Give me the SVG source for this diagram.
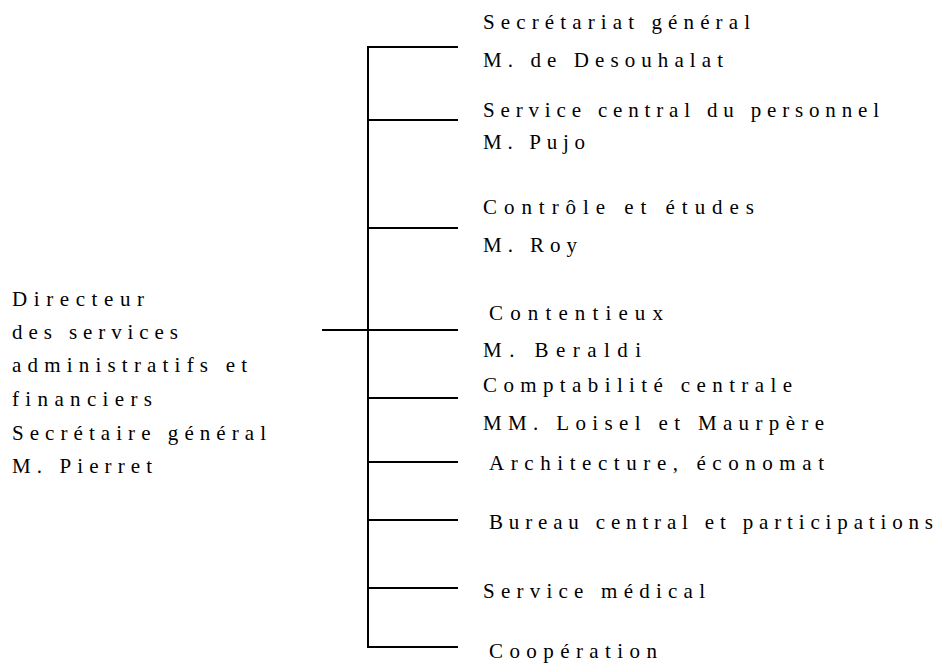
<svg xmlns="http://www.w3.org/2000/svg" width="935" height="666" viewBox="0 0 935 666">
<style>
text{font-family:"Liberation Serif","Times New Roman",serif;font-size:21px;fill:#000}
.ln{stroke:#000;stroke-width:2;fill:none}
</style>
<rect width="935" height="666" fill="#fff"/>
<g id="connectors">
<line class="ln" x1="368" y1="47" x2="368" y2="647"/>
<line class="ln" x1="322" y1="330" x2="458" y2="330"/>
<line class="ln" x1="367" y1="47" x2="458" y2="47"/>
<line class="ln" x1="368" y1="120" x2="458" y2="120"/>
<line class="ln" x1="368" y1="228" x2="458" y2="228"/>
<line class="ln" x1="368" y1="398" x2="458" y2="398"/>
<line class="ln" x1="368" y1="462" x2="458" y2="462"/>
<line class="ln" x1="368" y1="520" x2="458" y2="520"/>
<line class="ln" x1="368" y1="588" x2="458" y2="588"/>
<line class="ln" x1="367" y1="647" x2="458" y2="647"/>
</g>
<g id="director">
<text x="12" y="306" textLength="132" lengthAdjust="spacing">Directeur</text>
<text x="12" y="339" textLength="166" lengthAdjust="spacing">des services</text>
<text x="12" y="372" textLength="235" lengthAdjust="spacing">administratifs et</text>
<text x="12" y="406" textLength="140" lengthAdjust="spacing">financiers</text>
<text x="12" y="440" textLength="254" lengthAdjust="spacing">Secrétaire général</text>
<text x="12" y="473" textLength="140" lengthAdjust="spacing">M. Pierret</text>
</g>
<g id="secretariat">
<text x="483" y="29" textLength="267" lengthAdjust="spacing">Secrétariat général</text>
<text x="483" y="67" textLength="240" lengthAdjust="spacing">M. de Desouhalat</text>
</g>
<g id="personnel">
<text x="483" y="117" textLength="396" lengthAdjust="spacing">Service central du personnel</text>
<text x="483" y="149" textLength="102" lengthAdjust="spacing">M. Pujo</text>
</g>
<g id="controle">
<text x="483" y="214" textLength="271" lengthAdjust="spacing">Contrôle et études</text>
<text x="483" y="252" textLength="94" lengthAdjust="spacing">M. Roy</text>
</g>
<g id="contentieux">
<text x="489" y="320" textLength="174" lengthAdjust="spacing">Contentieux</text>
<text x="483" y="357" textLength="158" lengthAdjust="spacing">M. Beraldi</text>
</g>
<g id="comptabilite">
<text x="483" y="392" textLength="309" lengthAdjust="spacing">Comptabilité centrale</text>
<text x="483" y="430" textLength="341" lengthAdjust="spacing">MM. Loisel et Maurpère</text>
</g>
<g id="architecture"><text x="489" y="470" textLength="335" lengthAdjust="spacing">Architecture, économat</text></g>
<g id="bureau"><text x="489" y="529" textLength="444" lengthAdjust="spacing">Bureau central et participations</text></g>
<g id="medical"><text x="483" y="598" textLength="222" lengthAdjust="spacing">Service médical</text></g>
<g id="cooperation"><text x="489" y="658" textLength="168" lengthAdjust="spacing">Coopération</text></g>
</svg>
